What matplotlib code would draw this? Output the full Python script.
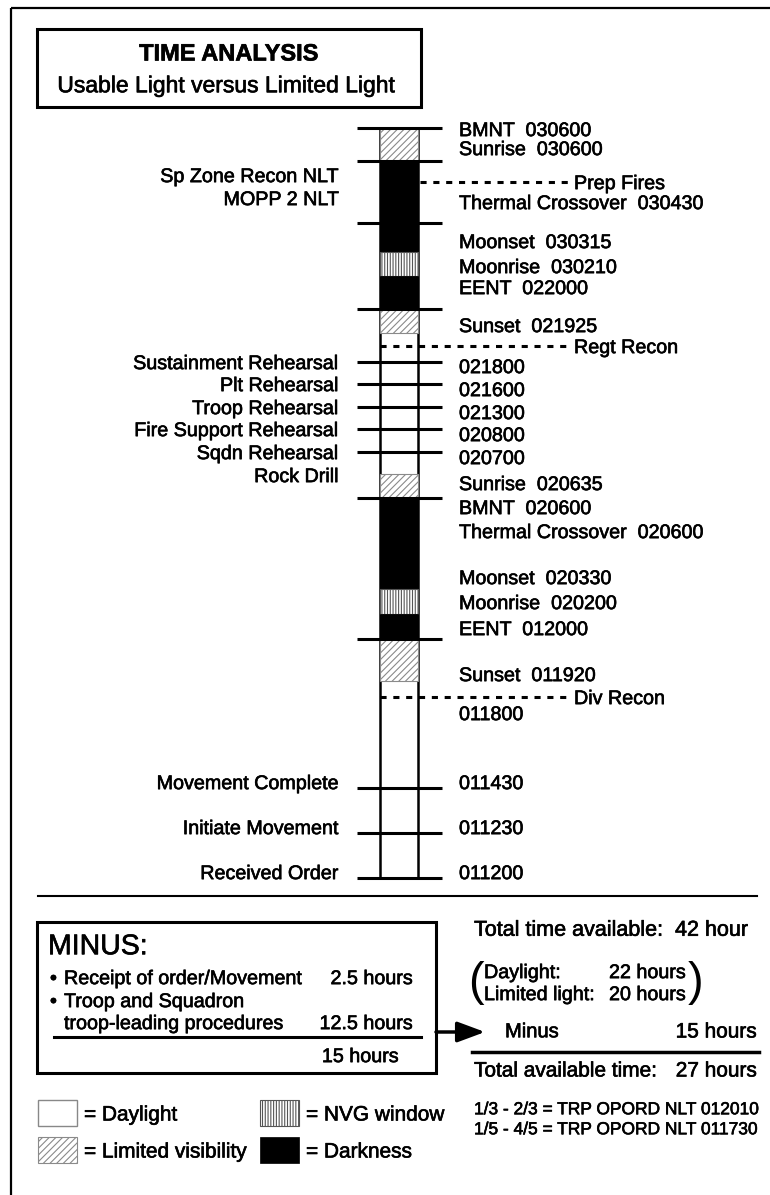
import matplotlib
matplotlib.use("Agg")
import matplotlib.pyplot as plt
import matplotlib.patheffects as pe
from matplotlib.patches import Rectangle

plt.rcParams['font.family'] = ['Liberation Sans', 'DejaVu Sans']
plt.rcParams['hatch.linewidth'] = 0.8

# light segments of the time column (top, bottom, kind)
seg_top = [128, 161, 252, 276, 309, 333, 474, 498, 589, 614, 639, 681]
seg_bot = [161, 252, 276, 309, 333, 474, 498, 589, 614, 639, 681, 878]
seg_kind = ['limited', 'dark', 'nvg', 'dark', 'limited', 'day',
            'limited', 'dark', 'nvg', 'dark', 'limited', 'day']

# solid tick rows on the column
tick_y = [128, 161, 223, 309, 362, 384, 407, 429, 452, 498, 639, 788, 833, 878]

# labels right of the column
right_text = ['BMNT  030600', 'Sunrise  030600', 'Thermal Crossover  030430',
              'Moonset  030315', 'Moonrise  030210', 'EENT  022000',
              'Sunset  021925', '021800', '021600', '021300', '020800',
              '020700', 'Sunrise  020635', 'BMNT  020600',
              'Thermal Crossover  020600', 'Moonset  020330',
              'Moonrise  020200', 'EENT  012000', 'Sunset  011920',
              '011800', '011430', '011230', '011200']
right_y = [129, 148, 202, 241, 266, 287, 325, 366, 389, 412, 434, 457,
           483, 507, 531, 577, 602, 628, 674, 713, 782, 827, 872]

# labels left of the column
left_text = ['Sp Zone Recon NLT', 'MOPP 2 NLT', 'Sustainment Rehearsal',
             'Plt Rehearsal', 'Troop Rehearsal', 'Fire Support Rehearsal',
             'Sqdn Rehearsal', 'Rock Drill', 'Movement Complete',
             'Initiate Movement', 'Received Order']
left_y = [175, 198, 362, 384, 407, 429, 452, 475, 782, 827, 872]

# dashed markers
dash_text = ['Prep Fires', 'Regt Recon', 'Div Recon']
dash_y = [182, 346, 697]
dash_start = ['right', 'left', 'left']

# MINUS box
minus_items = ['Receipt of order/Movement', 'Troop and Squadron']
minus_hours = ['2.5 hours', '12.5 hours']
minus_total = '15 hours'

# summary
total_hours = 42
daylight_hours = 22
limited_hours = 20
minus_sum = 15
avail_hours = 27
opord_lines = ['1/3 - 2/3 = TRP OPORD NLT 012010',
               '1/5 - 4/5 = TRP OPORD NLT 011730']

legend_names = ['= Daylight', '= Limited visibility', '= NVG window', '= Darkness']
legend_kind = ['day', 'limited', 'nvg', 'dark']

W, H = 770, 1195
fig = plt.figure(figsize=(W / 100, H / 100), dpi=100)
ax = fig.add_axes([0, 0, 1, 1])
ax.set_xlim(0, W)
ax.set_ylim(H, 0)
ax.axis('off')

# slightly heavier strokes, like the scanned original
thick = [pe.withStroke(linewidth=0.45, foreground='black')]


def label(x, yc, s, size=14, ha='left', **kw):
    # place text by its visual middle (cap height)
    off = 0.36 * size * 100 / 72
    ax.text(x, yc + off, s, fontsize=size, ha=ha, va='baseline',
            path_effects=thick, **kw)


def fill_box(x, y, w, h, kind, edge_day='#888888'):
    if kind == 'dark':
        ax.add_patch(Rectangle((x, y), w, h, facecolor='black', edgecolor='black', lw=0.5, zorder=3))
    elif kind == 'nvg':
        ax.add_patch(Rectangle((x, y), w, h, facecolor='white', edgecolor='#555555',
                               hatch='||||||', lw=0.8, zorder=3))
    elif kind == 'limited':
        ax.add_patch(Rectangle((x, y), w, h, facecolor='white', edgecolor='#8a8a8a',
                               hatch='/////', lw=0.8, zorder=3))
    else:
        ax.add_patch(Rectangle((x, y), w, h, facecolor='white', edgecolor=edge_day,
                               lw=1.0, zorder=3))


# outer frame (right/bottom run off the page)
ax.add_patch(Rectangle((11, 8), W + 20, H + 20, fill=False, edgecolor='black', lw=1.6))

# title box
ax.add_patch(Rectangle((37, 29), 384, 78, fill=False, edgecolor='black', lw=2.2))
label(229, 52, 'TIME ANALYSIS', size=17, ha='center', fontweight='bold')
label(226, 84, 'Usable Light versus Limited Light', size=16.5, ha='center')

# time column
col_l, col_r = 380, 418
ax.plot([col_l, col_l], [seg_top[0], seg_bot[-1]], color='black', lw=1.8, zorder=2)
ax.plot([col_r, col_r], [seg_top[0], seg_bot[-1]], color='black', lw=1.8, zorder=2)
for t, b, k in zip(seg_top, seg_bot, seg_kind):
    if k != 'day':
        fill_box(col_l, t, col_r - col_l, b - t, k)

for y in tick_y:
    ax.plot([357, 442], [y, y], color='black', lw=2.2, zorder=4, solid_capstyle='butt')

for s, y in zip(right_text, right_y):
    label(459, y, s, size=14.2)
for s, y in zip(left_text, left_y):
    label(339, y, s, size=14.2, ha='right')

for s, y, st in zip(dash_text, dash_y, dash_start):
    x0 = col_r + 2 if st == 'right' else col_l
    ax.plot([x0, 568], [y, y], color='black', lw=2.2, ls=(0, (2.0, 2.2)), zorder=5)
    label(574, y, s, size=14.2)

# separator
ax.plot([38, 757], [896, 896], color='black', lw=1.5)

# MINUS box
ax.add_patch(Rectangle((37, 922), 399, 151, fill=False, edgecolor='black', lw=2.2))
label(48, 944, 'MINUS:', size=20.5)
label(50, 977, '\u2022', size=14.2)
label(64, 977, minus_items[0], size=14.2)
label(413, 977, minus_hours[0], size=14.2, ha='right')
label(50, 1000, '\u2022', size=14.2)
label(64, 1000, minus_items[1], size=14.2)
label(64, 1022, 'troop-leading procedures', size=14.2)
label(413, 1022, minus_hours[1], size=14.2, ha='right')
ax.plot([54, 421], [1037, 1037], color='black', lw=2.2)
label(399, 1055, minus_total, size=14.2, ha='right')

# arrow to the summary
ax.annotate('', xy=(485, 1032), xytext=(436, 1032),
            arrowprops=dict(arrowstyle='-|>,head_length=0.7,head_width=0.26', color='black',
                            lw=2.5, mutation_scale=24, shrinkA=0, shrinkB=0))

# summary block
label(474, 928, f'Total time available:  {total_hours} hour', size=15.5)
ax.text(476, 983, '(', fontsize=34, ha='center', va='center')
ax.text(696, 983, ')', fontsize=34, ha='center', va='center')
label(484, 971, 'Daylight:', size=14.2)
label(609, 971, f'{daylight_hours} hours', size=14.2)
label(484, 993, 'Limited light:', size=14.2)
label(609, 993, f'{limited_hours} hours', size=14.2)
label(505, 1030, 'Minus', size=14.5)
label(757, 1030, f'{minus_sum} hours', size=15, ha='right')
ax.plot([472, 759], [1052, 1052], color='black', lw=2.5)
label(474, 1069, 'Total available time:', size=15)
label(757, 1069, f'{avail_hours} hours', size=15, ha='right')
for s, y in zip(opord_lines, [1108, 1128]):
    label(474, y, s, size=12.5)

# legend
leg_x = [38, 38, 260, 260]
leg_y = [1100, 1137, 1100, 1137]
for name, k, x, y in zip(legend_names, legend_kind, leg_x, leg_y):
    fill_box(x, y, 39, 26, k)
    label(x + 46, y + 13, name, size=15)

fig.savefig('out.png', dpi=100)
